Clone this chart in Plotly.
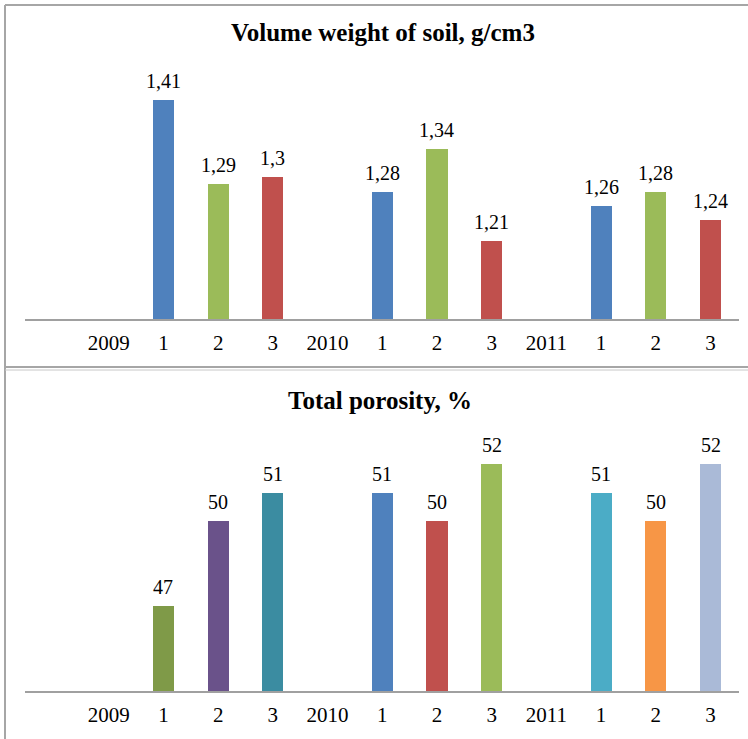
import plotly.graph_objects as go

# ---- data ----
tick_labels = ["2009", "1", "2", "3", "2010", "1", "2", "3", "2011", "1", "2", "3"]
volume_weight = [None, 1.41, 1.29, 1.30, None, 1.28, 1.34, 1.21, None, 1.26, 1.28, 1.24]
volume_labels = ["", "1,41", "1,29", "1,3", "", "1,28", "1,34", "1,21", "", "1,26", "1,28", "1,24"]
porosity = [None, 47, 50, 51, None, 51, 50, 52, None, 51, 50, 52]
porosity_labels = ["", "47", "50", "51", "", "51", "50", "52", "", "51", "50", "52"]
volume_colors = ["#4F81BD", "#4F81BD", "#9BBB59", "#C0504D", "#4F81BD", "#4F81BD", "#9BBB59", "#C0504D",
                 "#4F81BD", "#4F81BD", "#9BBB59", "#C0504D"]
porosity_colors = ["#7F9A48", "#7F9A48", "#6A528A", "#3B8CA1", "#4F81BD", "#4F81BD", "#C0504D", "#9BBB59",
                   "#4BACC6", "#4BACC6", "#F79646", "#AABAD7"]

x_pos = list(range(len(tick_labels)))

W, H = 748, 739
FONT = "Liberation Serif, Times New Roman, serif"


def py(p):
    return 1 - p / H


def px(p):
    return p / W


fig = go.Figure()

fig.add_trace(go.Bar(x=x_pos, y=volume_weight, marker=dict(color=volume_colors, line=dict(width=0)),
                     width=0.385, xaxis="x", yaxis="y", hoverinfo="x+y", showlegend=False))
fig.add_trace(go.Bar(x=x_pos, y=porosity, marker=dict(color=porosity_colors, line=dict(width=0)),
                     width=0.385, xaxis="x2", yaxis="y2", hoverinfo="x+y", showlegend=False))

xcommon = dict(range=[-1.53, 11.52], domain=[px(25), px(739)], tickmode="array",
               tickvals=x_pos, ticktext=tick_labels, showgrid=False, zeroline=False,
               showline=True, linecolor="#A0A0A0", linewidth=1.5,
               ticks="outside", ticklen=4, tickcolor="rgba(0,0,0,0)",
               tickfont=dict(family=FONT, size=21, color="black"), fixedrange=True)
ycommon = dict(showgrid=False, zeroline=False, showticklabels=False, showline=False, fixedrange=True)

annotations = [
    dict(text="<b>Volume weight of soil, g/cm3</b>", xref="paper", yref="paper",
         x=px(383), y=py(32), xanchor="center", yanchor="middle", showarrow=False,
         font=dict(family=FONT, size=25, color="black")),
    dict(text="<b>Total porosity, %</b>", xref="paper", yref="paper",
         x=px(380), y=py(400), xanchor="center", yanchor="middle", showarrow=False,
         font=dict(family=FONT, size=25, color="black")),
]
for xv, yv, lab in zip(x_pos, volume_weight, volume_labels):
    if yv is not None:
        annotations.append(dict(text=lab, x=xv, y=yv, xref="x", yref="y", xanchor="center",
                                yanchor="bottom", yshift=6, showarrow=False,
                                font=dict(family=FONT, size=20, color="black")))
for xv, yv, lab in zip(x_pos, porosity, porosity_labels):
    if yv is not None:
        annotations.append(dict(text=lab, x=xv, y=yv, xref="x2", yref="y2", xanchor="center",
                                yanchor="bottom", yshift=6, showarrow=False,
                                font=dict(family=FONT, size=20, color="black")))

fig.update_layout(
    width=W, height=H,
    margin=dict(l=0, r=0, t=0, b=0),
    paper_bgcolor="white", plot_bgcolor="white",
    bargap=0,
    xaxis=dict(**xcommon, anchor="y"),
    yaxis=dict(**ycommon, domain=[py(319), py(40)], range=[1.1, 1.1 + 279 / 708], anchor="x"),
    xaxis2=dict(**xcommon, anchor="y2"),
    yaxis2=dict(**ycommon, domain=[py(691), py(412)], range=[44, 44 + 279 / 28.33], anchor="x2"),
    annotations=annotations,
    shapes=[
        dict(type="line", xref="paper", yref="paper", x0=px(5), x1=1, y0=py(5), y1=py(5),
             line=dict(color="#A6A6A6", width=2)),
        dict(type="line", xref="paper", yref="paper", x0=px(5), x1=px(5), y0=py(5), y1=0,
             line=dict(color="#A6A6A6", width=2)),
        dict(type="line", xref="paper", yref="paper", x0=px(5), x1=1, y0=py(367), y1=py(367),
             line=dict(color="#A6A6A6", width=2)),
        dict(type="line", xref="paper", yref="paper", x0=px(5), x1=1, y0=py(370), y1=py(370),
             line=dict(color="#C8C8C8", width=1)),
    ],
)

fig.write_html("out.html", config={"displayModeBar": False},
               post_script="document.body.style.margin='0';document.body.style.overflow='hidden';")
